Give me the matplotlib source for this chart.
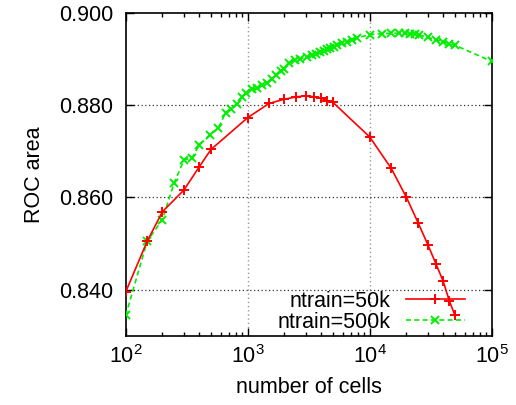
import matplotlib
matplotlib.use("Agg")
import matplotlib.pyplot as plt
from matplotlib.ticker import FixedLocator, LogLocator, NullFormatter

plt.rcParams['font.family'] = ['Liberation Sans', 'DejaVu Sans']

# ntrain = 50k
cells_50k = [100, 150, 200, 300, 400, 500, 1000, 1500, 2000, 2500, 3000, 3500,
             4000, 4500, 5000, 10000, 15000, 20000, 25000, 30000, 35000, 40000,
             45000, 50000]
roc_50k = [0.8395, 0.8505, 0.8569, 0.8616, 0.8666, 0.8704, 0.8773, 0.8804,
           0.8813, 0.8818, 0.8820, 0.8818, 0.8815, 0.8810, 0.8806, 0.8731,
           0.8663, 0.8600, 0.8544, 0.8497, 0.8455, 0.8418, 0.8375, 0.8344]

# ntrain = 500k
cells_500k = [100, 150, 200, 250, 300, 350, 400, 490, 575, 660, 730, 815, 895,
              970, 1080, 1190, 1310, 1440, 1580, 1710, 1870, 1970, 2180, 2450,
              2690, 3060, 3370, 3630, 3940, 4190, 4470, 4750, 5060, 5400, 5930,
              6520, 7160, 7890, 10000, 12500, 15000, 17500, 19500, 21500,
              23500, 25500, 30000, 35000, 40000, 45000, 50000, 100000]
roc_500k = [0.8344, 0.8505, 0.8552, 0.8632, 0.8681, 0.8686, 0.8713, 0.8736,
            0.8751, 0.8784, 0.8791, 0.8802, 0.8817, 0.8826, 0.8835, 0.8838,
            0.8843, 0.8848, 0.8857, 0.8866, 0.8875, 0.8878, 0.8891, 0.8898,
            0.8901, 0.8904, 0.8908, 0.8912, 0.8915, 0.8918, 0.8921, 0.8924,
            0.8927, 0.8930, 0.8934, 0.8938, 0.8942, 0.8946, 0.8953, 0.8955,
            0.8956, 0.8956, 0.8956, 0.8955, 0.8954, 0.8952, 0.8947, 0.8942,
            0.8938, 0.8933, 0.8930, 0.8895]

yticks = [0.840, 0.860, 0.880, 0.900]
FS = 15.5

fig = plt.figure(figsize=(5.16, 4.05), dpi=100)
ax = fig.add_axes([0.2436, 0.171, 0.7094, 0.797])

ax.plot(cells_50k, roc_50k, color='#ff0000', lw=1.2, marker='+', ms=7.5,
        mew=1.4, label='ntrain=50k', zorder=4)
ax.plot(cells_500k, roc_500k, color='#00ee00', lw=1.2, ls=(0, (3, 2)),
        marker='x', ms=6, mew=1.4, label='ntrain=500k', zorder=3)

ax.set_xscale('log')
ax.set_xlim(100, 100000)
ax.set_ylim(0.830, 0.900)
ax.yaxis.set_major_locator(FixedLocator(yticks))
ax.set_yticklabels(['%.3f' % v for v in yticks])
ax.xaxis.set_major_locator(LogLocator(base=10, numticks=10))
ax.xaxis.set_minor_locator(LogLocator(base=10, subs=range(2, 10), numticks=10))
ax.xaxis.set_minor_formatter(NullFormatter())

ax.tick_params(which='both', direction='in', top=True, right=True,
               labelsize=FS, width=1.0)
ax.tick_params(which='major', length=6, pad=9)
ax.tick_params(which='minor', length=3)
ax.tick_params(axis='x', which='major', pad=7)
for s in ax.spines.values():
    s.set_linewidth(1.2)

for v in [1000, 10000]:
    ax.axvline(v, color='#999999', ls=(0, (1, 2)), lw=1.0, zorder=1)
for v in [0.840, 0.860, 0.880]:
    ax.axhline(v, color='#333333', ls=(0, (1, 2)), lw=0.9, zorder=1)

ax.set_xlabel('number of cells', fontsize=FS, labelpad=6)
ax.set_ylabel('ROC area', fontsize=FS, labelpad=10)

ax.legend(loc='lower right', bbox_to_anchor=(0.935, 0.0), markerfirst=False,
          frameon=False, fontsize=FS, handlelength=2.75, handletextpad=0.7,
          labelspacing=0.0, borderpad=0.15, borderaxespad=0.0, numpoints=1)

fig.savefig('out.png', dpi=100)
